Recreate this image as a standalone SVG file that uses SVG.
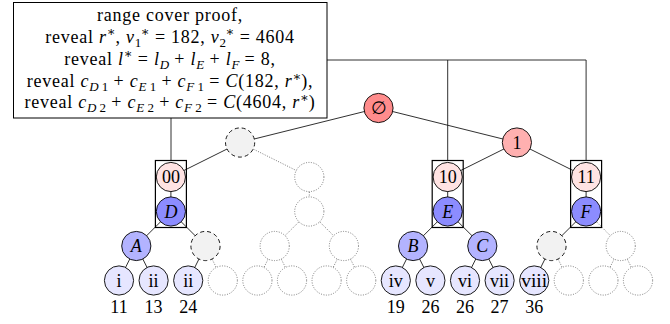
<svg xmlns="http://www.w3.org/2000/svg" width="670" height="324" viewBox="0 0 670 324">
<style>
text{font-family:"Liberation Serif","DejaVu Serif",serif;font-size:18px;fill:#000}
.bt{letter-spacing:0.75px}
.it{font-style:italic}
.sc{font-size:13px;letter-spacing:0}
.e{stroke:#1a1a1a;stroke-width:0.9;fill:none}
.d{stroke:#7a7a7a;stroke-width:1;stroke-dasharray:1 1.5;fill:none}
.n{stroke:#000;stroke-width:0.9}
.root{fill:#ff8c8c}
.one{fill:#ffb0b0}
.pre{fill:#ffe3e3}
.cov{fill:#8c8cff}
.mid{fill:#b3b3ff}
.leaf{fill:#e6e6ff}
.dash{fill:#f2f2f2;stroke:#000;stroke-width:0.9;stroke-dasharray:4 3}
.dot{fill:#fff;stroke:#7a7a7a;stroke-width:1;stroke-dasharray:1 1.5}
.box{fill:none;stroke:#000;stroke-width:1.2}
.c{text-anchor:middle}
</style>

<g id="connectors">
  <line class="e" x1="171" y1="118" x2="171" y2="160.5"/>
  <polyline class="e" points="327,60 586.1,60 586.1,160.5"/>
  <line class="e" x1="447.7" y1="60" x2="447.7" y2="160.5"/>
  <line class="e" x1="378.5" y1="108" x2="240.1" y2="142.5"/>
  <line class="e" x1="378.5" y1="108" x2="516.9" y2="142.5"/>
  <line class="e" x1="240.1" y1="142.5" x2="170.9" y2="177"/>
  <line class="e" x1="516.9" y1="142.5" x2="447.7" y2="177"/>
  <line class="e" x1="516.9" y1="142.5" x2="586.1" y2="177"/>
  <line class="e" x1="170.9" y1="177" x2="170.9" y2="211.5"/>
  <line class="e" x1="447.7" y1="177" x2="447.7" y2="211.5"/>
  <line class="e" x1="586.1" y1="177" x2="586.1" y2="211.5"/>
  <line class="e" x1="170.9" y1="211.5" x2="136.3" y2="246"/>
  <line class="e" x1="170.9" y1="211.5" x2="205.5" y2="246"/>
  <line class="e" x1="136.3" y1="246" x2="119" y2="280.5"/>
  <line class="e" x1="136.3" y1="246" x2="153.6" y2="280.5"/>
  <line class="e" x1="205.5" y1="246" x2="188.2" y2="280.5"/>
  <line class="e" x1="447.7" y1="211.5" x2="413.1" y2="246"/>
  <line class="e" x1="447.7" y1="211.5" x2="482.3" y2="246"/>
  <line class="e" x1="413.1" y1="246" x2="395.8" y2="280.5"/>
  <line class="e" x1="413.1" y1="246" x2="430.4" y2="280.5"/>
  <line class="e" x1="482.3" y1="246" x2="465" y2="280.5"/>
  <line class="e" x1="482.3" y1="246" x2="499.6" y2="280.5"/>
  <line class="e" x1="586.1" y1="211.5" x2="551.5" y2="246"/>
  <line class="e" x1="551.5" y1="246" x2="534.2" y2="280.5"/>
  <line class="d" x1="240.1" y1="142.5" x2="309.3" y2="177"/>
  <line class="d" x1="309.3" y1="177" x2="309.3" y2="211.5"/>
  <line class="d" x1="309.3" y1="211.5" x2="274.7" y2="246"/>
  <line class="d" x1="309.3" y1="211.5" x2="343.9" y2="246"/>
  <line class="d" x1="274.7" y1="246" x2="257.4" y2="280.5"/>
  <line class="d" x1="274.7" y1="246" x2="292" y2="280.5"/>
  <line class="d" x1="343.9" y1="246" x2="326.6" y2="280.5"/>
  <line class="d" x1="343.9" y1="246" x2="361.2" y2="280.5"/>
  <line class="d" x1="205.5" y1="246" x2="222.8" y2="280.5"/>
  <line class="d" x1="551.5" y1="246" x2="568.8" y2="280.5"/>
  <line class="d" x1="586.1" y1="211.5" x2="620.7" y2="246"/>
  <line class="d" x1="620.7" y1="246" x2="603.4" y2="280.5"/>
  <line class="d" x1="620.7" y1="246" x2="638" y2="280.5"/>
</g>

<g id="proof-box">
  <rect x="13.5" y="2.5" width="313.5" height="115.5" fill="#fff" stroke="#000" stroke-width="1"/>
  <text class="c bt" x="170" y="20.5">range cover proof,</text>
  <text class="c bt" x="170" y="42.5">reveal <tspan class="it">r</tspan><tspan class="sc" dy="-7">∗</tspan><tspan dy="7">, </tspan><tspan class="it">v</tspan><tspan class="sc" dy="4">1</tspan><tspan class="sc" dx="-0.5" dy="-11">∗</tspan><tspan dy="7"> = 182, </tspan><tspan class="it">v</tspan><tspan class="sc" dy="4">2</tspan><tspan class="sc" dx="-0.5" dy="-11">∗</tspan><tspan dy="7"> = 4604</tspan></text>
  <text class="c bt" x="170" y="64.5">reveal <tspan class="it">l</tspan><tspan class="sc" dy="-7">∗</tspan><tspan dy="7"> = </tspan><tspan class="it">l</tspan><tspan class="sc it" dy="4">D</tspan><tspan dy="-4"> + </tspan><tspan class="it">l</tspan><tspan class="sc it" dy="4">E</tspan><tspan dy="-4"> + </tspan><tspan class="it">l</tspan><tspan class="sc it" dy="4">F</tspan><tspan dy="-4"> = 8,</tspan></text>
  <text class="c bt" x="170" y="87">reveal <tspan class="it">c</tspan><tspan class="sc it" dy="4">D</tspan><tspan class="sc"> 1</tspan><tspan dy="-4"> + </tspan><tspan class="it">c</tspan><tspan class="sc it" dy="4">E</tspan><tspan class="sc"> 1</tspan><tspan dy="-4"> + </tspan><tspan class="it">c</tspan><tspan class="sc it" dy="4">F</tspan><tspan class="sc"> 1</tspan><tspan dy="-4"> = </tspan><tspan class="it">C</tspan>(182, <tspan class="it">r</tspan><tspan class="sc" dy="-6">∗</tspan><tspan dy="6">),</tspan></text>
  <text class="c bt" x="170" y="108">reveal <tspan class="it">c</tspan><tspan class="sc it" dy="4">D</tspan><tspan class="sc"> 2</tspan><tspan dy="-4"> + </tspan><tspan class="it">c</tspan><tspan class="sc it" dy="4">E</tspan><tspan class="sc"> 2</tspan><tspan dy="-4"> + </tspan><tspan class="it">c</tspan><tspan class="sc it" dy="4">F</tspan><tspan class="sc"> 2</tspan><tspan dy="-4"> = </tspan><tspan class="it">C</tspan>(4604, <tspan class="it">r</tspan><tspan class="sc" dy="-6">∗</tspan><tspan dy="6">)</tspan></text>
</g>

<g id="n-root"><circle class="n root" cx="378.5" cy="108" r="14.6"/><text class="c" x="378.5" y="114">∅</text></g>
<g id="n-0"><circle class="dash" cx="240.1" cy="142.5" r="14.6"/></g>
<g id="n-1"><circle class="n one" cx="516.9" cy="142.5" r="14.6"/><text class="c" x="516.9" y="148.5">1</text></g>

<g id="n-00"><circle class="n pre" cx="170.9" cy="177" r="14.6"/><text class="c" x="170.9" y="183">00</text></g>
<g id="n-01"><circle class="dot" cx="309.3" cy="177" r="14.6"/></g>
<g id="n-10"><circle class="n pre" cx="447.7" cy="177" r="14.6"/><text class="c" x="447.7" y="183">10</text></g>
<g id="n-11"><circle class="n pre" cx="586.1" cy="177" r="14.6"/><text class="c" x="586.1" y="183">11</text></g>

<g id="n-D"><circle class="n cov" cx="170.9" cy="211.5" r="14.6"/><text class="c it" x="170.9" y="217.5">D</text></g>
<g id="n-01x"><circle class="dot" cx="309.3" cy="211.5" r="14.6"/></g>
<g id="n-E"><circle class="n cov" cx="447.7" cy="211.5" r="14.6"/><text class="c it" x="447.7" y="217.5">E</text></g>
<g id="n-F"><circle class="n cov" cx="586.1" cy="211.5" r="14.6"/><text class="c it" x="586.1" y="217.5">F</text></g>

<g id="box-00D"><rect class="box" x="155.4" y="160.5" width="31" height="67"/></g>
<g id="box-10E"><rect class="box" x="432.2" y="160.5" width="31" height="67"/></g>
<g id="box-11F"><rect class="box" x="570.6" y="160.5" width="31" height="67"/></g>

<g id="n-A"><circle class="n mid" cx="136.3" cy="246" r="14.6"/><text class="c it" x="136.3" y="252">A</text></g>
<g id="n-l4b"><circle class="dash" cx="205.5" cy="246" r="14.6"/></g>
<g id="n-l4c"><circle class="dot" cx="274.7" cy="246" r="14.6"/></g>
<g id="n-l4d"><circle class="dot" cx="343.9" cy="246" r="14.6"/></g>
<g id="n-B"><circle class="n mid" cx="413.1" cy="246" r="14.6"/><text class="c it" x="413.1" y="252">B</text></g>
<g id="n-C"><circle class="n mid" cx="482.3" cy="246" r="14.6"/><text class="c it" x="482.3" y="252">C</text></g>
<g id="n-l4g"><circle class="dash" cx="551.5" cy="246" r="14.6"/></g>
<g id="n-l4h"><circle class="dot" cx="620.7" cy="246" r="14.6"/></g>

<g id="leaf-0"><circle class="n leaf" cx="119" cy="280.5" r="14.6"/><text class="c" x="119" y="286.5">i</text><text class="c" x="119" y="313">11</text></g>
<g id="leaf-1"><circle class="n leaf" cx="153.6" cy="280.5" r="14.6"/><text class="c" x="153.6" y="286.5">ii</text><text class="c" x="153.6" y="313">13</text></g>
<g id="leaf-2"><circle class="n leaf" cx="188.2" cy="280.5" r="14.6"/><text class="c" x="188.2" y="286.5">ii</text><text class="c" x="188.2" y="313">24</text></g>
<g id="leaf-3"><circle class="dot" cx="222.8" cy="280.5" r="14.6"/></g>
<g id="leaf-4"><circle class="dot" cx="257.4" cy="280.5" r="14.6"/></g>
<g id="leaf-5"><circle class="dot" cx="292" cy="280.5" r="14.6"/></g>
<g id="leaf-6"><circle class="dot" cx="326.6" cy="280.5" r="14.6"/></g>
<g id="leaf-7"><circle class="dot" cx="361.2" cy="280.5" r="14.6"/></g>
<g id="leaf-8"><circle class="n leaf" cx="395.8" cy="280.5" r="14.6"/><text class="c" x="395.8" y="286.5">iv</text><text class="c" x="395.8" y="313">19</text></g>
<g id="leaf-9"><circle class="n leaf" cx="430.4" cy="280.5" r="14.6"/><text class="c" x="430.4" y="286.5">v</text><text class="c" x="430.4" y="313">26</text></g>
<g id="leaf-10"><circle class="n leaf" cx="465" cy="280.5" r="14.6"/><text class="c" x="465" y="286.5">vi</text><text class="c" x="465" y="313">26</text></g>
<g id="leaf-11"><circle class="n leaf" cx="499.6" cy="280.5" r="14.6"/><text class="c" x="499.6" y="286.5">vii</text><text class="c" x="499.6" y="313">27</text></g>
<g id="leaf-12"><circle class="n leaf" cx="534.2" cy="280.5" r="14.6"/><text class="c" x="534.2" y="286.5" textLength="26" lengthAdjust="spacingAndGlyphs">viii</text><text class="c" x="534.2" y="313">36</text></g>
<g id="leaf-13"><circle class="dot" cx="568.8" cy="280.5" r="14.6"/></g>
<g id="leaf-14"><circle class="dot" cx="603.4" cy="280.5" r="14.6"/></g>
<g id="leaf-15"><circle class="dot" cx="638" cy="280.5" r="14.6"/></g>
</svg>
